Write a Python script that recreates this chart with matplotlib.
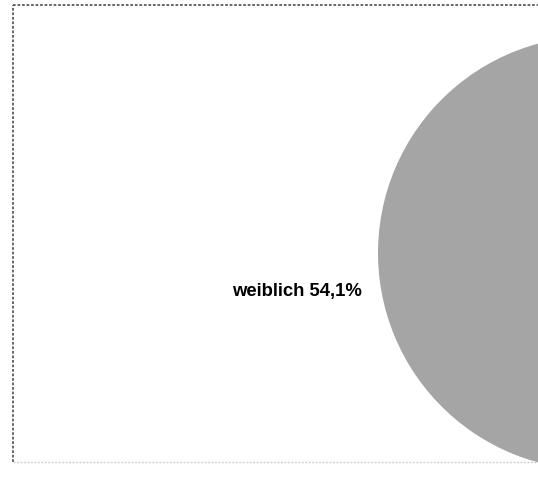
import matplotlib.pyplot as plt
from matplotlib.lines import Line2D

labels = ['weiblich', 'männlich']
shares = [54.1, 45.9]
colors = ['#a5a5a5', '#5f5f5f']
# only the weiblich label falls inside the visible area
shown = [True, False]

fig = plt.figure(figsize=(5.38, 4.91), dpi=100)
ax = fig.add_axes([0, 0, 1, 1])

texts = [f'{l} {str(v).replace(".", ",")}%' if s else ''
         for l, v, s in zip(labels, shares, shown)]
wedges, txts = ax.pie(shares, labels=texts, colors=colors, startangle=90,
                      counterclock=True, labeldistance=1.384, radius=1,
                      textprops=dict(fontsize=13.3, fontweight='bold',
                                     family='Liberation Sans', color='black'))
for t in txts:
    t.set_ha('center')
    t.set_va('center')

# pixel layout: circle centre (595, 253), radius 217
r = 217.0
ax.set_xlim(-595 / r, (538 - 595) / r)
ax.set_ylim(-(491 - 253) / r, 253 / r)
ax.set_aspect('auto')
ax.axis('off')

# dotted frame around the chart area
W, H = 538.0, 491.0
x0 = 12.5 / W
ytop = 1 - 4.5 / H
ybot = 1 - 461.5 / H
fig.add_artist(Line2D([x0, x0], [ybot, ytop], color='#5a5a5a', lw=1.3,
                      linestyle=(0, (1.5, 1)), transform=fig.transFigure))
fig.add_artist(Line2D([x0, 1], [ytop, ytop], color='#5a5a5a', lw=1.3,
                      linestyle=(0, (1.5, 1)), transform=fig.transFigure))
fig.add_artist(Line2D([x0, 1], [ybot, ybot], color='#d0d0d0', lw=1.0,
                      linestyle=(0, (1.5, 1)), transform=fig.transFigure))

fig.savefig('out.png', dpi=100)
